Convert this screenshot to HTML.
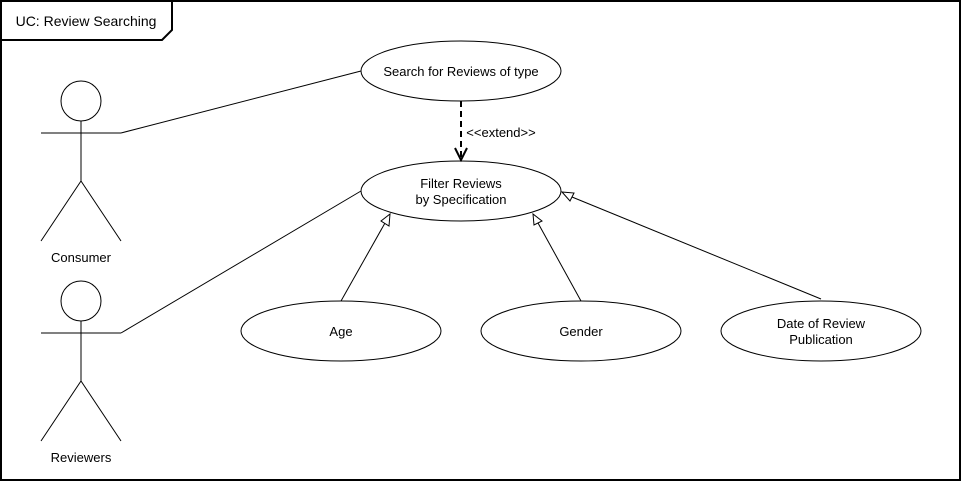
<!DOCTYPE html>
<html><head><meta charset="utf-8"><style>
html,body{margin:0;padding:0;background:#fff;}
svg{display:block;font-family:"Liberation Sans",Helvetica,Arial,sans-serif;}
</style></head><body>
<svg width="962" height="482" viewBox="0 0 962 482" xmlns="http://www.w3.org/2000/svg">
<rect x="0" y="0" width="962" height="482" fill="#fff"/>
<rect x="1" y="1" width="959" height="479" fill="none" stroke="#000" stroke-width="2"/>
<path d="M1 1 H172 V30 L162 40 H1 Z" fill="#fff" stroke="#000" stroke-width="2"/>
<text x="86" y="26" font-size="14" text-anchor="middle">UC: Review Searching</text>
<g fill="none" stroke="#000" stroke-width="1">
<circle cx="81" cy="101" r="20"/>
<path d="M81 121 V181 M41 133 H121 M81 181 L41 241 M81 181 L121 241"/>
<circle cx="81" cy="301" r="20"/>
<path d="M81 321 V381 M41 333 H121 M81 381 L41 441 M81 381 L121 441"/>
<path d="M121 133 L361 71"/>
<path d="M121 333 L361 191"/>
<ellipse cx="461" cy="71" rx="100" ry="30"/>
<ellipse cx="461" cy="191" rx="100" ry="30"/>
<ellipse cx="341" cy="331" rx="100" ry="30"/>
<ellipse cx="581" cy="331" rx="100" ry="30"/>
<ellipse cx="821" cy="331" rx="100" ry="30"/>
<path d="M461 101 V159" stroke-width="2" stroke-dasharray="6 4"/>
<path d="M455 148 L461 160 L467 148" stroke-width="2"/>
<path d="M341 301 L385 223"/>
<path d="M581 301 L538 223"/>
<path d="M821 299 L572 197"/>
</g>
<g fill="#fff" stroke="#000" stroke-width="1">
<path d="M390 214 L381 221 L389 226 Z"/>
<path d="M533 214 L534 225 L542 221 Z"/>
<path d="M562 192 L570 201 L574 193 Z"/>
</g>
<g font-size="13" text-anchor="middle" fill="#000">
<text x="81" y="262">Consumer</text>
<text x="81" y="462">Reviewers</text>
<text x="461" y="76">Search for Reviews of type</text>
<text x="461" y="188">Filter Reviews</text>
<text x="461" y="204">by Specification</text>
<text x="341" y="336">Age</text>
<text x="581" y="336">Gender</text>
<text x="821" y="328">Date of Review</text>
<text x="821" y="344">Publication</text>
<text x="501" y="137">&lt;&lt;extend&gt;&gt;</text>
</g>
</svg>
</body></html>
